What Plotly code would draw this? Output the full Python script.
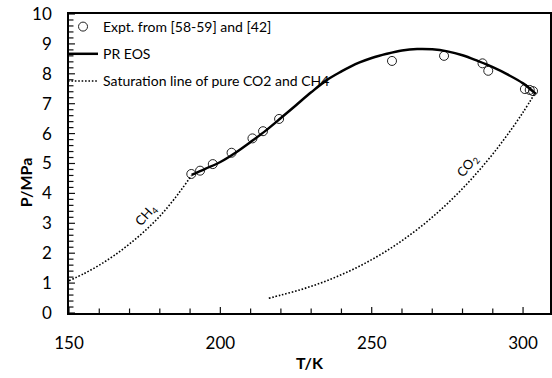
import plotly.graph_objects as go

# Experimental bubble/dew points of the CO2 + CH4 mixture
expt_T = [190.4, 193.3, 197.5, 203.7, 210.6, 214.1, 219.4,
          256.7, 273.9, 286.6, 288.5, 300.6, 302.2, 303.3]
expt_P = [4.65, 4.76, 4.98, 5.36, 5.84, 6.08, 6.49,
          8.43, 8.60, 8.35, 8.10, 7.49, 7.46, 7.42]

# Peng-Robinson phase envelope
pr_T = [190.5, 195, 200, 205, 210, 215, 220, 225, 230, 235, 240, 243,
        246, 250, 255, 260, 265, 270, 275, 280, 285, 290, 295, 300, 304.2]
pr_P = [4.62, 4.82, 5.05, 5.36, 5.72, 6.10, 6.52, 6.95, 7.38, 7.78, 8.08, 8.24,
        8.38, 8.53, 8.67, 8.78, 8.83, 8.82, 8.75, 8.62, 8.43, 8.22, 7.97, 7.68, 7.33]

# Pure-component saturation curves
ch4_T = [150, 155, 160, 165, 170, 175, 180, 185, 190.5]
ch4_P = [1.08, 1.32, 1.60, 1.93, 2.31, 2.74, 3.24, 3.84, 4.60]
co2_T = [216, 220, 225, 230, 235, 240, 245, 250, 255, 260, 265, 270,
         275, 280, 285, 290, 295, 300, 304.1]
co2_P = [0.49, 0.60, 0.735, 0.893, 1.073, 1.283, 1.515, 1.785, 2.084, 2.419, 2.791, 3.203,
         3.659, 4.161, 4.714, 5.318, 5.982, 6.713, 7.377]

# Tick positions (labels every 50 K / 1 MPa, minor marks every 10 K / 0.2 MPa)
x_tickvals = [150, 200, 250, 300]
x_minor = list(range(150, 310, 10))
y_tickvals = list(range(0, 11))
y_minor = [round(0.2 * i, 1) for i in range(51)]

X_MIN, X_MAX, Y_MIN, Y_MAX = 150, 308.9, 0, 10
W, H = 552, 378
M_L, M_R, M_T, M_B = 69, 0, 14, 65
FONT = "Lato"
TICK_COLOR = "#111111"

# Pixel-per-unit scale of each axis, used to size the inward tick marks
px_per_K = (W - M_L - M_R) / (X_MAX - X_MIN)
px_per_MPa = (H - M_T - M_B) / (Y_MAX - Y_MIN)

fig = go.Figure()

# Inward tick marks as short line segments
tx, ty = [], []
for t in x_minor:
    length = (6 if t in x_tickvals else 4.5) / px_per_MPa
    tx += [t, t, None]
    ty += [Y_MIN, Y_MIN + length, None]
for v in y_minor:
    major = abs(v - round(v)) < 1e-9
    length = (6 if major else 4.5) / px_per_K
    tx += [X_MIN, X_MIN + length, None]
    ty += [v, v, None]
fig.add_trace(go.Scatter(
    x=tx, y=ty, mode="lines", showlegend=False, hoverinfo="skip",
    line=dict(color=TICK_COLOR, width=1.2),
))

fig.add_trace(go.Scatter(
    x=expt_T, y=expt_P, mode="markers", name="Expt. from [58-59] and [42]",
    marker=dict(symbol="circle-open", size=9, color="#222222", line=dict(width=1)),
    legendgroup="a",
))
fig.add_trace(go.Scatter(
    x=pr_T, y=pr_P, mode="lines", name="PR EOS", line_shape="spline",
    line=dict(color="black", width=2.5), legendgroup="b",
))
fig.add_trace(go.Scatter(
    x=ch4_T + [None] + co2_T, y=ch4_P + [None] + co2_P, mode="lines",
    name="Saturation line of pure CO2 and CH4", line_shape="spline",
    line=dict(color="black", width=1.6, dash="1.6px,1.8px"), legendgroup="c",
))

fig.add_annotation(x=175.5, y=3.28, text="CH<sub>4</sub>", showarrow=False,
                   textangle=-48, font=dict(family=FONT, size=13, color="black"))
fig.add_annotation(x=281.8, y=4.9, text="CO<sub>2</sub>", showarrow=False,
                   textangle=-52, font=dict(family=FONT, size=13, color="black"))

# Axis titles
fig.add_annotation(xref="paper", yref="paper", x=(311 - 69) / 483, y=(313 - 362) / 299,
                   xanchor="center", yanchor="middle",
                   text="<b>T/K</b>", showarrow=False,
                   font=dict(family=FONT, size=16, color="black"))
fig.add_annotation(xref="paper", yref="paper", x=(25 - 69) / 483, y=(313 - 182) / 299,
                   xanchor="center", yanchor="middle",
                   text="<b>P/MPa</b>", showarrow=False, textangle=-90,
                   font=dict(family=FONT, size=16, color="black"))

fig.update_xaxes(
    range=[X_MIN, X_MAX], tickvals=x_tickvals, ticks="", showline=True,
    linecolor="black", linewidth=1.5, mirror=True,
    showgrid=False, zeroline=False, ticklabelstandoff=14,
    tickfont=dict(family=FONT, size=17, color="black"),
)
fig.update_yaxes(
    range=[Y_MIN, Y_MAX], tickvals=y_tickvals, ticks="", showline=True,
    linecolor="black", linewidth=1.5, mirror=True, showgrid=False,
    zeroline=False, ticklabelstandoff=12,
    tickfont=dict(family=FONT, size=17, color="black"),
)

fig.update_layout(
    width=W, height=H,
    margin=dict(l=M_L, r=M_R, t=M_T, b=M_B),
    paper_bgcolor="white", plot_bgcolor="white",
    font=dict(family=FONT, color="black"),
    legend=dict(x=(63 - 69) / 483, y=(313 - 11) / 299, xanchor="left", yanchor="top",
                bgcolor="rgba(0,0,0,0)", font=dict(family=FONT, size=14, color="black"),
                traceorder="grouped", tracegroupgap=6, itemwidth=30),
)

fig.write_html("out.html")
